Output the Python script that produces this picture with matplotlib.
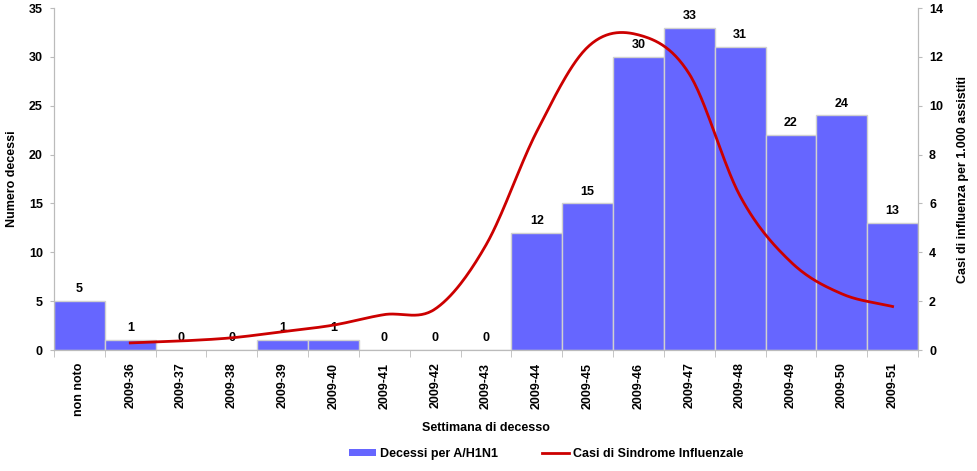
import numpy as np
import matplotlib
matplotlib.use("Agg")
import matplotlib.pyplot as plt
from matplotlib.patches import Patch
from matplotlib.lines import Line2D

plt.rcParams['font.family'] = ['Liberation Sans', 'DejaVu Sans']
plt.rcParams['font.weight'] = 'bold'

categories = ["non noto", "2009-36", "2009-37", "2009-38", "2009-39", "2009-40",
              "2009-41", "2009-42", "2009-43", "2009-44", "2009-45", "2009-46",
              "2009-47", "2009-48", "2009-49", "2009-50", "2009-51"]
deaths = [5, 1, 0, 0, 1, 1, 0, 0, 0, 12, 15, 30, 33, 31, 22, 24, 13]
ili_weeks = categories[1:]
ili_values = [0.29, 0.37, 0.5, 0.75, 1.02, 1.45, 1.68, 4.3, 8.95, 12.4, 12.9, 11.3, 6.3, 3.6, 2.3, 1.78]


def catmull_rom(x, y, n=30):
    x = np.asarray(x, float)
    y = np.asarray(y, float)
    px = np.concatenate([[2 * x[0] - x[1]], x, [2 * x[-1] - x[-2]]])
    py = np.concatenate([[2 * y[0] - y[1]], y, [2 * y[-1] - y[-2]]])
    xs, ys = [], []
    t = np.linspace(0, 1, n, endpoint=False)
    for i in range(1, len(px) - 2):
        for arr, out in ((px, xs), (py, ys)):
            p0, p1, p2, p3 = arr[i - 1], arr[i], arr[i + 1], arr[i + 2]
            out.extend(0.5 * ((2 * p1) + (-p0 + p2) * t + (2 * p0 - 5 * p1 + 4 * p2 - p3) * t ** 2
                              + (-p0 + 3 * p1 - 3 * p2 + p3) * t ** 3))
    xs.append(x[-1])
    ys.append(y[-1])
    return np.array(xs), np.array(ys)


FS = 9
fig = plt.figure(figsize=(9.77, 4.71), dpi=100)
ax = fig.add_axes([0.0553, 0.2569, 0.8843, 0.7261])
xpos = np.arange(len(categories))
ax.bar(xpos, deaths, width=1.0, color='#6666FF', edgecolor='#D0D0D0', linewidth=1.0, zorder=2)
for xi, v in zip(xpos, deaths):
    ax.text(xi, v + 0.6, str(v), ha='center', va='bottom', fontsize=FS, fontweight='bold', zorder=5)

ax.set_xlim(-0.5, len(categories) - 0.5)
ax.set_ylim(0, 35)
ax.set_yticks(np.arange(0, 36, 5))
ax.set_xticks(xpos)
ax.set_xticklabels(categories, rotation=90, fontsize=FS, fontweight='bold')
ax.tick_params(axis='x', length=0, pad=9)
ax.set_xticks(np.arange(-0.5, len(categories), 1), minor=True)
ax.tick_params(axis='x', which='minor', length=5, color='#BBBBBB', direction='out')
ax.tick_params(axis='y', labelsize=FS, length=3, color='#BBBBBB', pad=5)
for lab in ax.get_yticklabels():
    lab.set_fontweight('bold')
ax.set_ylabel('Numero decessi', fontsize=FS, fontweight='bold', labelpad=8)
fig.text(486 / 977, 1 - 428 / 471, 'Settimana di decesso', ha='center', va='center',
         fontsize=FS, fontweight='bold')
ax.spines['top'].set_visible(False)
for s in ['left', 'right', 'bottom']:
    ax.spines[s].set_color('#BBBBBB')

ax2 = ax.twinx()
ax2.set_ylim(0, 14)
ax2.set_yticks(np.arange(0, 15, 2))
lx = [categories.index(w) for w in ili_weeks]
sx, sy = catmull_rom(lx, ili_values)
ax2.plot(sx, sy, color='#CC0000', linewidth=2, zorder=4)
ax2.tick_params(axis='y', labelsize=FS, length=3, color='#BBBBBB', pad=5)
for lab in ax2.get_yticklabels():
    lab.set_fontweight('bold')
ax2.set_ylabel('Casi di influenza per 1.000 assistiti', fontsize=FS, fontweight='bold', labelpad=10)
ax2.spines['top'].set_visible(False)
for s in ['left', 'right', 'bottom']:
    ax2.spines[s].set_color('#BBBBBB')

handles = [Patch(facecolor='#6666FF', edgecolor='none'),
           Line2D([0], [0], color='#CC0000', linewidth=2)]
fig.legend(handles, ['Decessi per A/H1N1', 'Casi di Sindrome Influenzale'],
           loc='center', bbox_to_anchor=(0.559, 0.036), ncol=2, frameon=False,
           handlelength=2.2, handleheight=0.5, columnspacing=3.5, handletextpad=0.3,
           prop={'weight': 'bold', 'size': FS})

fig.savefig('out.png', dpi=100)
